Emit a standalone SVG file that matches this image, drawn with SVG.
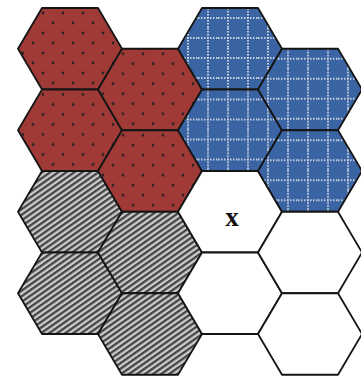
<svg xmlns="http://www.w3.org/2000/svg" width="361" height="382" viewBox="0 0 361 382">
  <style>
    .hex { stroke: #151515; stroke-width: 1.8; stroke-linejoin: round; }
    .red { fill: url(#pRed); }
    .blue { fill: url(#pBlue); }
    .gray { fill: url(#pGray); }
    .white { fill: #ffffff; }
    .lbl { font-family: "Liberation Serif", "Times New Roman", serif; font-weight: bold; font-size: 27px; fill: #111; text-anchor: middle; }
  </style>
  <defs>
    <path id="hx" d="M0,40.75 L24,0 L80,0 L104,40.75 L80,81.5 L24,81.5 Z"/>
    <pattern id="pRed" patternUnits="userSpaceOnUse" x="0" y="0" width="20" height="20">
      <rect width="20" height="20" fill="#9f3a37"/>
      <circle cx="5" cy="5" r="1.4" fill="#2a2222"/>
      <circle cx="15" cy="15" r="1.4" fill="#2a2222"/>
    </pattern>
    <pattern id="pBlue" patternUnits="userSpaceOnUse" x="0" y="0" width="20" height="20">
      <rect width="20" height="20" fill="#3a64a3"/>
      <line x1="10" y1="0" x2="10" y2="20" stroke="#ececec" stroke-width="1.6" stroke-dasharray="1.5 1.5"/>
      <line x1="0" y1="10" x2="20" y2="10" stroke="#ececec" stroke-width="1.6" stroke-dasharray="1.5 1.5"/>
    </pattern>
    <pattern id="pGray" patternUnits="userSpaceOnUse" x="0" y="0" width="10" height="4.6" patternTransform="rotate(-35)">
      <rect width="10" height="4.6" fill="#cdcdcd"/>
      <rect width="10" height="2.3" fill="#444444"/>
    </pattern>
  </defs>
  <g id="connectors"></g>
  <!-- column 0 -->
  <g id="c0r0"><use href="#hx" class="hex red" x="18" y="8"/></g>
  <g id="c0r1"><use href="#hx" class="hex red" x="18" y="89.5"/></g>
  <g id="c0r2"><use href="#hx" class="hex gray" x="18" y="171"/></g>
  <g id="c0r3"><use href="#hx" class="hex gray" x="18" y="252.5"/></g>
  <!-- column 1 -->
  <g id="c1r0"><use href="#hx" class="hex red" x="98" y="48.75"/></g>
  <g id="c1r1"><use href="#hx" class="hex red" x="98" y="130.25"/></g>
  <g id="c1r2"><use href="#hx" class="hex gray" x="98" y="211.75"/></g>
  <g id="c1r3"><use href="#hx" class="hex gray" x="98" y="293.25"/></g>
  <!-- column 2 -->
  <g id="c2r0"><use href="#hx" class="hex blue" x="178" y="8"/></g>
  <g id="c2r1"><use href="#hx" class="hex blue" x="178" y="89.5"/></g>
  <g id="c2r2"><use href="#hx" class="hex white" x="178" y="171"/><text class="lbl" x="232" y="226">x</text></g>
  <g id="c2r3"><use href="#hx" class="hex white" x="178" y="252.5"/></g>
  <!-- column 3 -->
  <g id="c3r0"><use href="#hx" class="hex blue" x="258" y="48.75"/></g>
  <g id="c3r1"><use href="#hx" class="hex blue" x="258" y="130.25"/></g>
  <g id="c3r2"><use href="#hx" class="hex white" x="258" y="211.75"/></g>
  <g id="c3r3"><use href="#hx" class="hex white" x="258" y="293.25"/></g>
</svg>
